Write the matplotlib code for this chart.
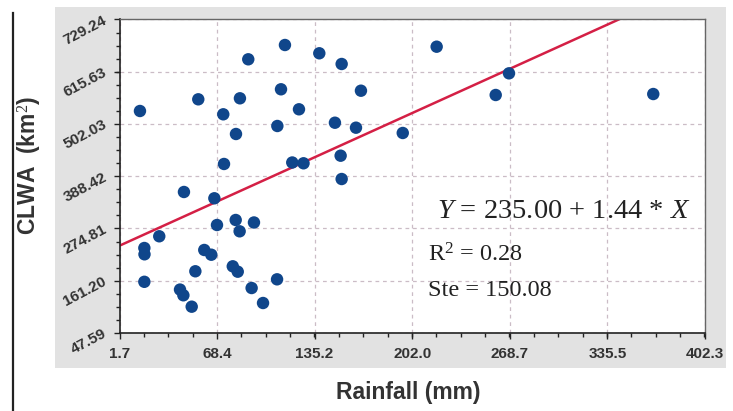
import matplotlib
matplotlib.use("Agg")
import matplotlib.pyplot as plt
from matplotlib.ticker import FixedLocator, AutoMinorLocator
from matplotlib.patches import Rectangle
from matplotlib.lines import Line2D
import numpy as np

# ---- data ----
rainfall = [15.7, 55.6, 89.8, 114.9, 138.4, 72.7, 84.1, 112.2, 124.5, 81.4,
            109.7, 73.2, 119.9, 127.6, 45.8, 66.6, 28.9, 18.7, 18.8, 68.4,
            81.2, 83.9, 93.7, 59.7, 64.5, 53.6, 79.2, 82.6, 18.7, 43.1,
            45.4, 51.1, 92.1, 99.9, 109.5, 153.7, 166.9, 218.7, 149.1, 163.5,
            195.5, 153.0, 153.7, 259.1, 268.2, 366.9]
clwa = [530.3, 555.7, 642.7, 673.8, 655.8, 523.1, 557.9, 577.5, 534.0, 480.3,
        497.7, 415.1, 418.3, 416.6, 354.2, 340.5, 257.9, 232.4, 218.7, 282.4,
        293.3, 268.7, 287.9, 228.1, 217.8, 181.8, 192.6, 180.9, 158.9, 142.0,
        129.6, 104.8, 145.4, 112.8, 164.3, 632.5, 574.4, 670.1, 504.8, 494.0,
        482.5, 433.1, 382.4, 565.1, 612.2, 567.2]
intercept = 235.00
slope = 1.44
x_ticks = [1.7, 68.4, 135.2, 202.0, 268.7, 335.5, 402.3]
x_ticklabels = ["1.7", "68.4", "135.2", "202.0", "268.7", "335.5", "402.3"]
y_ticks = [47.59, 161.20, 274.81, 388.42, 502.03, 615.63, 729.24]
y_ticklabels = ["47.59", "161.20", "274.81", "388.42", "502.03", "615.63", "729.24"]

W, H = 733, 411
fig = plt.figure(figsize=(W / 100, H / 100), dpi=100)
fig.patch.set_facecolor("white")

def fx(px):
    return px / W

def fy(py):
    return 1 - py / H

# gray panel
fig.patches.append(Rectangle((fx(55), fy(368)), fx(726) - fx(55), fy(7) - fy(368),
                             transform=fig.transFigure, facecolor="#e2e2e2",
                             edgecolor="none", zorder=0))
# vertical black rule at left
fig.lines.append(Line2D([fx(13), fx(13)], [fy(13), fy(411)], transform=fig.transFigure,
                        color="#222222", lw=1.6))

left, right, top, bottom = 119.5, 705, 19.5, 333
ax = fig.add_axes([fx(left), fy(bottom), fx(right) - fx(left), fy(top) - fy(bottom)])
ax.set_facecolor("white")
ax.set_zorder(1)

ax.set_xlim(x_ticks[0], x_ticks[-1])
ax.set_ylim(y_ticks[0], y_ticks[-1])

ax.xaxis.set_major_locator(FixedLocator(x_ticks))
ax.yaxis.set_major_locator(FixedLocator(y_ticks))
ax.xaxis.set_minor_locator(AutoMinorLocator(4))
ax.yaxis.set_minor_locator(AutoMinorLocator(4))
ax.set_xticklabels(x_ticklabels)
ax.set_yticklabels(y_ticklabels)

ax.grid(True, which="major", linestyle=(0, (3, 3)), color="#cbbcc6", lw=0.9, zorder=0)
ax.set_axisbelow(True)

ax.tick_params(axis="both", which="major", direction="out", length=4, width=1,
               color="#222222", labelcolor="#333333")
ax.tick_params(axis="both", which="minor", direction="out", length=3, width=1,
               color="#222222")
ax.tick_params(axis="x", pad=6)
ax.tick_params(axis="y", pad=6)
for lab in ax.get_xticklabels():
    lab.set_fontfamily("Liberation Sans")
    lab.set_fontweight("bold")
    lab.set_fontsize(11)
for lab in ax.get_yticklabels():
    lab.set_fontfamily("Liberation Sans")
    lab.set_fontweight("bold")
    lab.set_fontsize(11)
    lab.set_rotation(28)
    lab.set_ha("right")
    lab.set_va("center")
    lab.set_rotation_mode("anchor")

for s in ["left", "bottom"]:
    ax.spines[s].set_color("#222222")
    ax.spines[s].set_linewidth(1.2)
for s in ["top", "right"]:
    ax.spines[s].set_color("#666666")
    ax.spines[s].set_linewidth(1.0)

# white box behind the equation
ax.add_patch(Rectangle((0.52, 0.08), 0.47, 0.37, transform=ax.transAxes,
                       facecolor="white", edgecolor="none", zorder=0.5))

# regression line
xl = np.array([x_ticks[0], x_ticks[-1]])
ax.plot(xl, intercept + slope * xl, color="#d41f45", lw=1.8, zorder=2)

ax.scatter(rainfall, clwa, s=80, color="#10468b", edgecolors="none", zorder=3)

plt.rcParams["mathtext.fontset"] = "custom"
plt.rcParams["mathtext.it"] = "Liberation Serif:italic"
plt.rcParams["mathtext.rm"] = "Liberation Serif"

fig.text(fx(437), fy(211), r"$Y$ = 235.00 + 1.44 * $X$", family="Liberation Serif",
         fontsize=20.5, color="#222222", ha="left", va="center", zorder=5)
fig.text(fx(428), fy(255), r"R$^2$ = 0.28", family="Liberation Serif",
         fontsize=17.5, color="#222222", ha="left", va="center", zorder=5)
fig.text(fx(428), fy(290), "Ste = 150.08", family="Liberation Serif",
         fontsize=17.5, color="#222222", ha="left", va="center", zorder=5)

fig.text(fx(408), fy(392), "Rainfall (mm)", family="Liberation Sans", fontweight="bold",
         fontsize=16.5, color="#333333", ha="center", va="center")
fig.text(fx(30), fy(165), r"CLWA  (km$^2$)", family="Liberation Sans", fontweight="bold",
         fontsize=16.5, color="#333333", ha="center", va="center", rotation=90)

fig.savefig("out.png", dpi=100, facecolor="white")
